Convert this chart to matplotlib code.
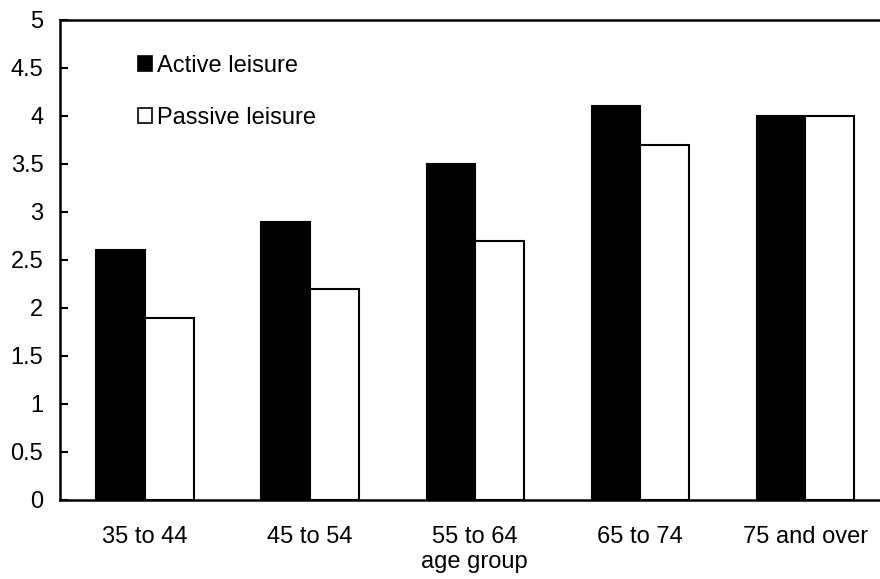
import matplotlib
matplotlib.use("Agg")
import matplotlib.pyplot as plt
import numpy as np
from matplotlib.patches import Patch

categories = ["35 to 44", "45 to 54", "55 to 64", "65 to 74", "75 and over"]
active = [2.6, 2.9, 3.5, 4.1, 4.0]
passive = [1.9, 2.2, 2.7, 3.7, 4.0]
yticks = [0, 0.5, 1, 1.5, 2, 2.5, 3, 3.5, 4, 4.5, 5]

plt.rcParams['font.family'] = ['Liberation Sans', 'DejaVu Sans']
FS = 17

fig = plt.figure(figsize=(8.8, 5.79), dpi=100)
ax = fig.add_axes([60/880, 1 - 500/579, 828/880, 480/579])

x = np.arange(len(categories))
w = 0.295
ax.bar(x - w/2, active, width=w, color='black', edgecolor='black', linewidth=1.5)
ax.bar(x + w/2, passive, width=w, color='white', edgecolor='black', linewidth=1.5)

ax.set_xlim(-0.515, 4.5)
ax.set_ylim(0, 5)
ax.set_yticks(yticks)
ax.set_yticklabels([f"{v:g}" for v in yticks])
ax.set_xticks(x)
ax.set_xticklabels(categories)
ax.tick_params(axis='y', direction='in', length=6, width=1.5, labelsize=FS, pad=12)
ax.tick_params(axis='x', length=0, labelsize=FS, pad=19)
ax.set_xlabel("age group", fontsize=FS, labelpad=2)

for side in ['left', 'bottom', 'top']:
    ax.spines[side].set_linewidth(1.8)
ax.spines['right'].set_visible(False)

handles = [Patch(facecolor='black', edgecolor='black', linewidth=1.2),
           Patch(facecolor='white', edgecolor='black', linewidth=1.2)]
ax.legend(handles, ["Active leisure", "Passive leisure"], loc='upper left',
          bbox_to_anchor=(0.080, 0.952), frameon=False, fontsize=FS,
          handlelength=0.6, handleheight=0.6, handletextpad=0.2,
          labelspacing=1.28, borderpad=0)

fig.savefig("out.png", dpi=100)
